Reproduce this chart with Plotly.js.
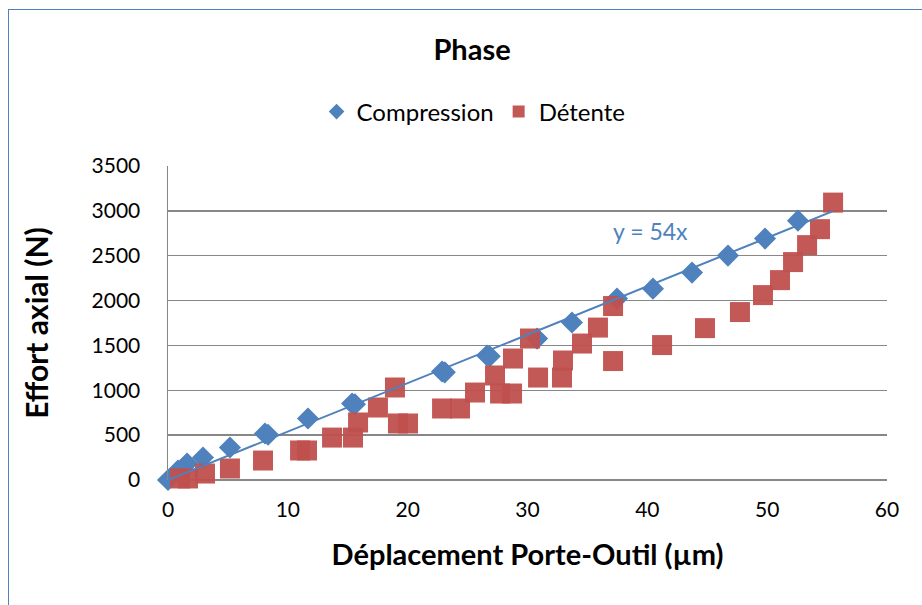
<!DOCTYPE html>
<html>
<head>
<meta charset="utf-8">
<script src="https://cdn.plot.ly/plotly-3.0.1.min.js"></script>
<style>
  html, body { margin: 0; padding: 0; background: #ffffff; overflow: hidden; }
  #frame { position: absolute; left: 8px; top: 9px; width: 1000px; height: 1000px;
           border: 1.5px solid #4F81BD; box-sizing: border-box; pointer-events: none; z-index: 5; }
  #chart { position: absolute; left: 0; top: 0; width: 922px; height: 605px; }
</style>
</head>
<body>
<div id="chart"></div>
<div id="frame"></div>
<script>
// Compression phase (µm, N)
const compX = [0, 0.83, 1.59, 2.92, 5.17, 8.09, 8.35, 11.68, 15.36, 15.6, 22.87, 23.1, 26.62, 26.85, 30.8, 33.71, 37.47, 40.47, 43.73, 46.73, 49.82, 52.57];
const compY = [0, 106, 184, 251, 362, 518, 505, 685, 852, 845, 1209, 1200, 1387, 1380, 1576, 1755, 2022, 2133, 2312, 2501, 2691, 2891];

// Détente phase (µm, N)
const detX = [1.0, 1.67, 3.09, 5.17, 7.93, 11.02, 11.6, 13.69, 15.44, 15.86, 17.52, 18.94, 19.19, 20.03, 22.87, 24.37, 25.62, 27.29, 27.71, 28.71, 28.79, 30.21, 30.88, 32.88, 32.96, 34.55, 35.88, 37.14, 37.14, 41.23, 44.81, 47.73, 49.65, 51.07, 52.16, 53.33, 54.41, 55.5];
const detY = [17, 17, 72, 128, 217, 329, 329, 473, 473, 641, 808, 1031, 630, 630, 797, 797, 975, 1165, 964, 964, 1354, 1577, 1142, 1142, 1332, 1521, 1699, 1939, 1326, 1504, 1693, 1872, 2061, 2228, 2429, 2618, 2796, 3092];

// Linear trend through origin: y = 54x
const slope = 54;
const trendX = [0, 55.5];
const trendY = trendX.map(v => slope * v);

const xTicks = [0, 10, 20, 30, 40, 50, 60];
const yTicks = [0, 500, 1000, 1500, 2000, 2500, 3000, 3500];

const FONT = 'Lato, "Open Sans", sans-serif';
const BLUE = '#4F81BD';
const RED = '#C0504D';

const traces = [
  {
    x: compX, y: compY, type: 'scatter', mode: 'markers', name: 'Compression',
    marker: { symbol: 'diamond', size: 17, color: BLUE, line: { width: 0 } },
    cliponaxis: false
  },
  {
    x: detX, y: detY, type: 'scatter', mode: 'markers', name: 'Détente',
    marker: { symbol: 'square', size: 20, color: RED, opacity: 0.95, line: { width: 0 } },
    cliponaxis: false
  },
  {
    x: trendX, y: trendY, type: 'scatter', mode: 'lines', showlegend: false,
    line: { color: BLUE, width: 2 }, hoverinfo: 'skip'
  }
];

const layout = {
  width: 922, height: 605,
  margin: { l: 168, r: 35, t: 166, b: 125 },
  paper_bgcolor: '#ffffff', plot_bgcolor: '#ffffff',
  font: { family: FONT, size: 20, color: '#000000' },
  title: {
    text: '<b>Phase</b>', font: { family: FONT, size: 29, color: '#000000' },
    x: 0.512, xanchor: 'center', y: 0.917, yanchor: 'middle', xref: 'container', yref: 'container'
  },
  showlegend: true,
  legend: {
    orientation: 'h', x: 0.425, xanchor: 'center', y: 1.172, yanchor: 'middle',
    font: { family: FONT, size: 24, color: '#000000' }, itemsizing: 'constant',
    itemwidth: 30, tracegroupgap: 0,
    traceorder: 'normal', bgcolor: 'rgba(0,0,0,0)'
  },
  xaxis: {
    range: [0, 60], tickvals: xTicks, ticktext: xTicks.map(String),
    showgrid: false, zeroline: false, showline: false, ticks: '',
    tickfont: { family: FONT, size: 21, color: '#000000' },
    ticklabelstandoff: 15,
    title: { text: '<b>Déplacement Porte-Outil (µm)</b>', font: { family: FONT, size: 29, color: '#000000' }, standoff: 24 }
  },
  yaxis: {
    range: [0, 3500], tickvals: yTicks, ticktext: yTicks.map(String),
    showgrid: true, gridcolor: '#878787', gridwidth: 1.5,
    zeroline: true, zerolinecolor: '#878787', zerolinewidth: 1.5,
    showline: true, linecolor: '#878787', linewidth: 1.5, ticks: '',
    tickfont: { family: FONT, size: 21, color: '#000000' },
    ticklabelstandoff: 22,
    title: { text: '<b>Effort axial (N)</b>', font: { family: FONT, size: 30, color: '#000000' }, standoff: 34 }
  },
  annotations: [
    { x: 40.3, y: 2780, xref: 'x', yref: 'y', text: 'y = ' + slope + 'x', showarrow: false,
      font: { family: FONT, size: 23, color: BLUE } }
  ]
};

Plotly.newPlot('chart', traces, layout, { displayModeBar: false, staticPlot: true });
</script>
</body>
</html>
